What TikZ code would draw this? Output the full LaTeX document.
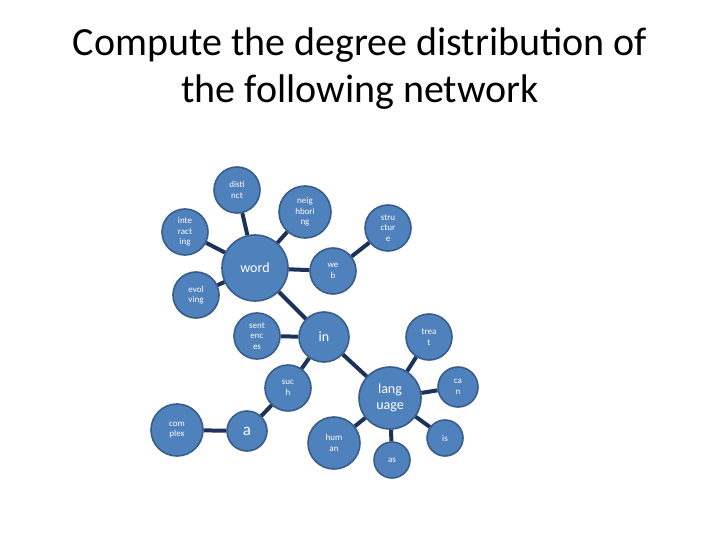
\documentclass[tikz,border=0pt]{standalone}
\usepackage{fontspec}
\setmainfont{Carlito}
\begin{document}
\begin{tikzpicture}[x=1pt,y=-1pt,
    wnode/.style={circle, draw={rgb,255:red,56;green,93;blue,138}, line width=1.6pt, fill={rgb,255:red,79;green,129;blue,189},
      text=white, align=center, inner sep=0pt, font=\fontsize{9}{10.5}\selectfont},
    link/.style={draw={rgb,255:red,28;green,50;blue,90}, line width=4pt}]
    \useasboundingbox (0,0) rectangle (720,540);
    \node (title) [align=center, font=\fontsize{40}{47}\selectfont] at (360,69) {Compute the degree distribution of\\the following network};

    \node (word) [wnode, minimum size=66pt, font=\fontsize{14}{15}\selectfont] at (255,268) {word};
    \node (distinct) [wnode, minimum size=46pt] at (237,190) {disti\\nct};
    \node (neighboring) [wnode, minimum size=52pt] at (305,212) {neig\\hbori\\ng};
    \node (interacting) [wnode, minimum size=46pt] at (185,232) {inte\\ract\\ing};
    \node (evolving) [wnode, minimum size=46pt] at (196,295) {evol\\ving};
    \node (web) [wnode, minimum size=46pt] at (333,271) {we\\b};
    \node (structure) [wnode, minimum size=46pt] at (388,228) {stru\\ctur\\e};
    \node (in) [wnode, minimum size=50pt, font=\fontsize{14}{15}\selectfont] at (324,337) {in};
    \node (sentences) [wnode, minimum size=46pt] at (257,336) {sent\\enc\\es};
    \node (such) [wnode, minimum size=46pt] at (288,388) {suc\\h};
    \node (a) [wnode, minimum size=40pt, font=\fontsize{17}{18}\selectfont] at (247,431) {a};
    \node (complex) [wnode, minimum size=52pt] at (177,430) {com\\plex};
    \node (language) [wnode, minimum size=62pt, font=\fontsize{14}{16}\selectfont] at (390,398) {lang\\uage};
    \node (treat) [wnode, minimum size=46pt] at (429,337) {trea\\t};
    \node (can) [wnode, minimum size=40pt] at (458,387) {ca\\n};
    \node (human) [wnode, minimum size=52pt] at (334,443) {hum\\an};
    \node (as) [wnode, minimum size=36pt] at (392,460) {as};
    \node (is) [wnode, minimum size=36pt] at (445,438) {is};

    \foreach \u/\v in {word/distinct, word/neighboring, word/interacting, word/evolving, word/web,
        web/structure, word/in, in/sentences, in/such, in/language, such/a, a/complex,
        language/treat, language/can, language/human, language/as, language/is}
        \draw[link] (\u) -- (\v);
\end{tikzpicture}
\end{document}
